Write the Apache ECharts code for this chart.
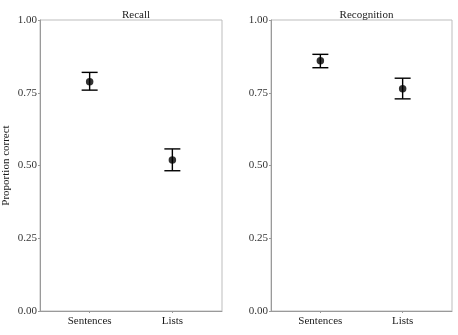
<!DOCTYPE html>
<html>
<head>
<meta charset="utf-8">
<script src="https://cdn.jsdelivr.net/npm/echarts@6/dist/echarts.min.js"></script>
<style>
html,body{margin:0;padding:0;background:#fff;}
#c{width:458px;height:335px;}
</style>
</head>
<body>
<div id="c"></div>
<script>
const categories = ['Sentences', 'Lists'];
const panels = ['Recall', 'Recognition'];
const recallMean = [0.788, 0.519];
const recallLow = [0.759, 0.482];
const recallHigh = [0.820, 0.557];
const recogMean = [0.860, 0.764];
const recogLow = [0.836, 0.729];
const recogHigh = [0.882, 0.800];
const yTicks = [0, 0.25, 0.5, 0.75, 1.0];

const FONT = '"Liberation Serif", "Times New Roman", serif';
const chart = echarts.init(document.getElementById('c'), null, {renderer: 'canvas'});

const grids = [
  {left: 40, top: 20, width: 182, height: 291},
  {left: 271, top: 20, width: 181, height: 291}
];

function xAxisFor(i) {
  return {
    type: 'value', gridIndex: i, min: 0.4, max: 2.6,
    axisLine: {show: true, lineStyle: {color: '#9a9a9a', width: 1}},
    axisTick: {show: true, customValues: [1, 2], length: 2, lineStyle: {color: '#9a9a9a'}},
    axisLabel: {show: true, customValues: [1, 2], formatter: v => categories[Math.round(v) - 1] || '',
      fontFamily: FONT, fontSize: 11, color: '#1a1a1a', margin: 5},
    splitLine: {show: false}
  };
}
function yAxisFor(i) {
  return {
    type: 'value', gridIndex: i, min: 0, max: 1, interval: 0.25,
    axisLine: {show: true, lineStyle: {color: '#9a9a9a', width: 1}},
    axisTick: {show: true, length: 2, lineStyle: {color: '#9a9a9a'}},
    axisLabel: {formatter: v => v.toFixed(2), fontFamily: FONT, fontSize: 11, color: '#333', margin: 3},
    splitLine: {show: false},
    name: i === 0 ? 'Proportion correct' : '',
    nameLocation: 'middle', nameGap: 28, nameRotate: 90,
    nameTextStyle: {fontFamily: FONT, fontSize: 11, color: '#1a1a1a'}
  };
}

function errSeries(i, low, high) {
  return {
    type: 'custom', xAxisIndex: i, yAxisIndex: i,
    data: categories.map((c, k) => [k + 1, low[k], high[k]]),
    renderItem: function (params, api) {
      const x = api.value(0);
      const lo = api.coord([x, api.value(1)]);
      const hi = api.coord([x, api.value(2)]);
      const hw = 8;
      const style = {stroke: '#000', lineWidth: 1.4, fill: null};
      return {type: 'group', children: [
        {type: 'line', shape: {x1: lo[0], y1: lo[1], x2: hi[0], y2: hi[1]}, style: style},
        {type: 'line', shape: {x1: lo[0] - hw, y1: lo[1], x2: lo[0] + hw, y2: lo[1]}, style: style},
        {type: 'line', shape: {x1: hi[0] - hw, y1: hi[1], x2: hi[0] + hw, y2: hi[1]}, style: style}
      ]};
    },
    z: 3
  };
}
function ptSeries(i, mean) {
  return {
    type: 'scatter', xAxisIndex: i, yAxisIndex: i,
    data: categories.map((c, k) => [k + 1, mean[k]]),
    symbol: 'circle', symbolSize: 7.5,
    itemStyle: {color: '#000'}, z: 4, silent: true
  };
}

const option = {
  backgroundColor: '#fff',
  animation: false,
  title: panels.map((t, i) => ({
    text: t, left: grids[i].left + grids[i].width / 2, top: 5, textAlign: 'center',
    textStyle: {fontFamily: FONT, fontSize: 11, fontWeight: 'normal', color: '#1a1a1a'}
  })),
  grid: grids.map(g => Object.assign({show: true, borderColor: '#bdbdbd', borderWidth: 1, backgroundColor: 'transparent'}, g)),
  xAxis: [xAxisFor(0), xAxisFor(1)],
  yAxis: [yAxisFor(0), yAxisFor(1)],
  series: [
    errSeries(0, recallLow, recallHigh), ptSeries(0, recallMean),
    errSeries(1, recogLow, recogHigh), ptSeries(1, recogMean)
  ]
};
chart.setOption(option);
</script>
</body>
</html>
